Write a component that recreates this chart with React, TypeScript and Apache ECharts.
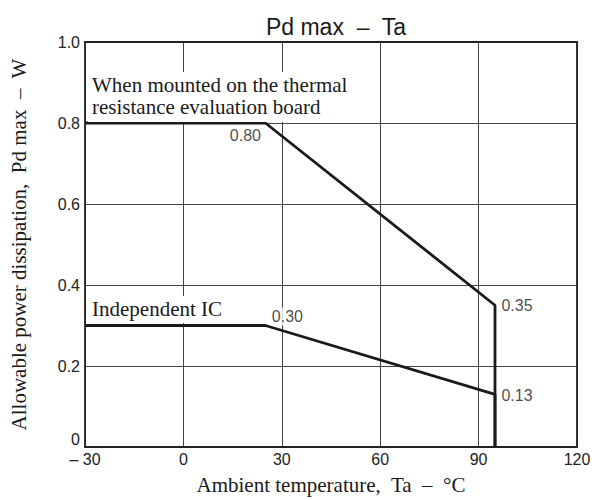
import React, { useEffect, useRef } from "react";
import * as echarts from "echarts";

const boardTemps = [-30, 25, 95, 95];
const boardPower = [0.8, 0.8, 0.35, 0];
const icTemps = [-30, 25, 95, 95];
const icPower = [0.3, 0.3, 0.13, 0];

const valueLabelPoints = [
  { t: 25, p: 0.8, text: "0.80", offset: [-20, 12], bg: "transparent" },
  { t: 25, p: 0.3, text: "0.30", offset: [22, -9], bg: "#ffffff" },
  { t: 95, p: 0.35, text: "0.35", offset: [22, 0], bg: "transparent" },
  { t: 95, p: 0.13, text: "0.13", offset: [22, 1], bg: "transparent" },
];

const xTicks = [-30, 0, 30, 60, 90, 120];
const xTickLabels = ["– 30", "0", "30", "60", "90", "120"];
const yTickLabels: Record<string, string> = {
  "0": "0",
  "0.2": "0.2",
  "0.4": "0.4",
  "0.6": "0.6",
  "0.8": "0.8",
  "1": "1.0",
};

const titleText = "Pd max  –  Ta";
const xName = "Ambient temperature,  Ta  –  °C";
const yName = "Allowable power dissipation,  Pd max  –  W";
const boardCaption = ["When mounted on the thermal", "resistance evaluation board"];
const icCaption = "Independent IC";

export default function App() {
  const ref = useRef<HTMLDivElement>(null);
  useEffect(() => {
    if (!ref.current) return;
    const chart = echarts.init(ref.current, undefined, { renderer: "svg" });
    const lineStyle = { color: "#1a1a1a", width: 2.8 };
    const serif = "'Liberation Serif', 'DejaVu Serif', serif";
    const sans = "'Liberation Sans', Arial, sans-serif";
    const frameLine = { show: true, onZero: false, lineStyle: { color: "#222", width: 1.8 } };
    chart.setOption({
      animation: false,
      backgroundColor: "#ffffff",
      title: {
        text: titleText,
        left: 331,
        top: 10,
        textAlign: "center",
        textStyle: { fontFamily: sans, fontSize: 23, fontWeight: "normal", color: "#1a1a1a" },
      },
      grid: { left: 85, right: 27, top: 42, bottom: 51, containLabel: false },
      xAxis: [
        {
          type: "value",
          min: -30,
          max: 120,
          interval: 30,
          name: xName,
          nameLocation: "middle",
          nameGap: 27,
          nameTextStyle: { fontFamily: serif, fontSize: 21, color: "#1a1a1a" },
          axisLine: frameLine,
          axisTick: { show: false },
          axisLabel: {
            fontFamily: sans,
            fontSize: 16,
            color: "#222",
            margin: 4,
            formatter: (v: number) => {
              const i = xTicks.indexOf(v);
              return i >= 0 ? xTickLabels[i] : "";
            },
          },
          splitLine: { show: true, lineStyle: { color: "#444", width: 1 } },
        },
        {
          type: "value",
          position: "top",
          min: -30,
          max: 120,
          interval: 30,
          axisLine: frameLine,
          axisTick: { show: false },
          axisLabel: { show: false },
          splitLine: { show: false },
        },
      ],
      yAxis: [
        {
          type: "value",
          min: 0,
          max: 1,
          interval: 0.2,
          name: yName,
          nameLocation: "middle",
          nameGap: 56,
          nameTextStyle: { fontFamily: serif, fontSize: 21, color: "#1a1a1a" },
          axisLine: frameLine,
          axisTick: { show: false },
          axisLabel: {
            fontFamily: sans,
            fontSize: 16,
            color: "#222",
            margin: 5,
            verticalAlignMinLabel: "bottom",
            formatter: (v: number) => yTickLabels[String(Math.round(v * 10) / 10)] ?? "",
          },
          splitLine: { show: true, lineStyle: { color: "#444", width: 1 } },
        },
        {
          type: "value",
          position: "right",
          min: 0,
          max: 1,
          interval: 0.2,
          axisLine: frameLine,
          axisTick: { show: false },
          axisLabel: { show: false },
          splitLine: { show: false },
        },
      ],
      series: [
        {
          type: "line",
          data: boardTemps.map((t, i) => [t, boardPower[i]]),
          symbol: "none",
          lineStyle,
          z: 5,
        },
        {
          type: "line",
          data: icTemps.map((t, i) => [t, icPower[i]]),
          symbol: "none",
          lineStyle,
          z: 5,
        },
        {
          type: "scatter",
          symbolSize: 1,
          itemStyle: { color: "rgba(0,0,0,0)" },
          z: 6,
          data: valueLabelPoints.map((d) => ({
            value: [d.t, d.p],
            label: {
              show: true,
              position: "inside",
              offset: d.offset,
              formatter: d.text,
              fontFamily: sans,
              fontSize: 16,
              color: "#1a1a1a",
              backgroundColor: d.bg,
              padding: [1, 1, 1, 1],
            },
          })),
        },
      ],
      graphic: [
        {
          type: "text",
          left: 88,
          top: 72,
          style: {
            text: boardCaption.join("\n"),
            fontFamily: serif,
            fontSize: 21,
            lineHeight: 22,
            fill: "#1a1a1a",
            backgroundColor: "#fff",
            padding: [2, 4, 4, 4],
          },
          z: 10,
        },
        {
          type: "text",
          left: 88,
          top: 296,
          style: {
            text: icCaption,
            fontFamily: serif,
            fontSize: 21,
            lineHeight: 22,
            fill: "#1a1a1a",
            backgroundColor: "#fff",
            padding: [2, 4, 3, 4],
          },
          z: 10,
        },
      ],
    });
    return () => chart.dispose();
  }, []);
  return <div ref={ref} style={{ width: 604, height: 500, position: "absolute", left: 0, top: 0 }} />;
}
